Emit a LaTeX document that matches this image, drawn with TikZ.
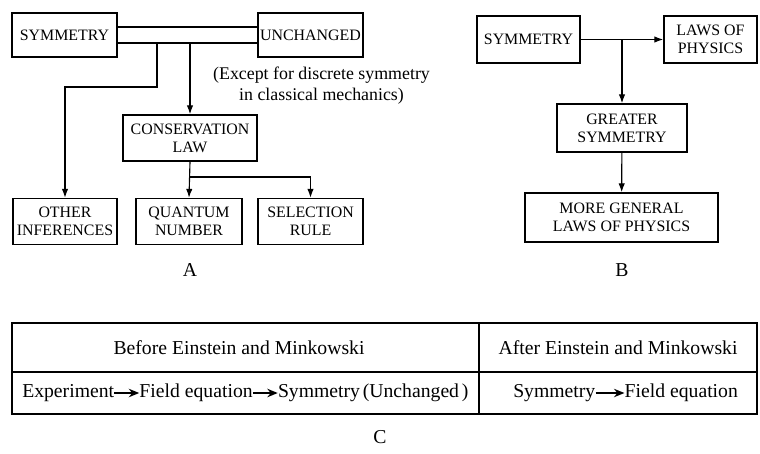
\documentclass[tikz,border=0pt]{standalone}
\usepackage{fontspec}
\setmainfont{Liberation Serif}
\usepackage{tikz}
\usetikzlibrary{arrows.meta}
\usetikzlibrary{positioning}
\newcommand{\boxsize}{\fontsize{11.3}{13}\selectfont}
\newcommand{\notesize}{\fontsize{12.7}{15}\selectfont}
\newcommand{\rowsize}{\fontsize{14}{14.2}\selectfont}
\tikzset{
    common/.style={draw, rectangle, line width=1.1pt, align=center, inner sep=1pt},
    box/.style={common, font=\boxsize, minimum height=1.15cm},
    conn/.style={line width=0.8pt, -{Latex[length=2.2mm, width=1.6mm]}},
    plain/.style={line width=0.8pt},
    flow/.style={line width=1.2pt, -{Stealth[length=2.6mm, width=2.1mm]}},
    word/.style={font=\rowsize, inner sep=0pt},
    caption/.style={font=\rowsize},
    rule/.style={line width=1.1pt},
}

\begin{document}
\begin{tikzpicture}[x=0.025cm, y=-0.025cm]
    \useasboundingbox (0,0) rectangle (760,453);

    % A
    \node[box, minimum width=2.625cm, minimum height=1.1cm] (a-sym) at (64.5,35) {SYMMETRY};
    \node[box, minimum width=2.625cm, minimum height=1.1cm] (a-unch) at (310.5,35) {UNCHANGED};
    \node[font=\notesize, align=center] (a-note) at (321.5,86) {(Except for discrete symmetry\\in classical mechanics)};
    \node[box, minimum width=3.35cm] (a-cons) at (190,138) {CONSERVATION\\LAW};
    \node[box, minimum width=2.6cm] (a-other) at (65,221.5) {OTHER\\INFERENCES};
    \node[box, minimum width=2.65cm] (a-quant) at (189,221.5) {QUANTUM\\NUMBER};
    \node[box, minimum width=2.625cm] (a-sel) at (310.5,221.5) {SELECTION\\RULE};
    \node[caption] (a-label) at (190,270) {A};

    \coordinate (a-high) at ([yshift=0.2cm]a-sym.east);
    \coordinate (a-low) at ([yshift=-0.2cm]a-sym.east);
    \coordinate (a-split) at (157,43);
    \coordinate (a-bend) at (157,87);
    \coordinate (a-fork) at (190,177);

    \draw[plain] (a-high) -- (a-high -| a-unch.west) (a-low) -- (a-low -| a-unch.west);
    \draw[conn] (a-split) -- (a-bend) -| (a-other.north);
    \draw[conn] (a-low -| a-cons.north) -- (a-cons.north);
    \draw[conn] (a-cons.south) -- (a-quant.north);
    \draw[conn] (a-fork) -| (a-sel.north);

    % B
    \node[box, minimum width=2.575cm, minimum height=1.175cm] (b-sym) at (528.5,39.5) {SYMMETRY};
    \node[box, minimum width=2.325cm, minimum height=1.175cm] (b-laws) at (710.5,39.5) {LAWS OF\\PHYSICS};
    \node[box, minimum width=3.25cm, minimum height=1.2cm] (b-great) at (622,128) {GREATER\\SYMMETRY};
    \node[box, minimum width=4.825cm, minimum height=1.225cm] (b-more) at (621.5,217.5) {MORE GENERAL\\LAWS OF PHYSICS};
    \node[caption] (b-label) at (622,270) {B};

    \draw[conn] (b-sym) -- (b-laws);
    \draw[conn] (b-great.north |- b-sym.east) -- (b-great.north);
    \draw[conn] (b-great) -- (b-more);

    % C
    \draw[rule] (12,323) rectangle (757,414);
    \draw[rule] (12,372) -- (757,372);
    \draw[rule] (479,323) -- (479,414);

    \node[word] (c-before) at (239,348) {Before Einstein and Minkowski};
    \node[word] (c-after) at (618,348) {After Einstein and Minkowski};

    \node[word, anchor=west] (c-exp) at (22,393) {Experiment};
    \node[word, right=0.62cm of c-exp] (c-field) {Field equation};
    \node[word, right=0.62cm of c-field] (c-sym) {Symmetry\kern2pt(Unchanged\kern2pt)};
    \draw[flow] (c-exp) -- (c-field);
    \draw[flow] (c-field) -- (c-sym);

    \node[word, anchor=west] (c-sym2) at (513,393) {Symmetry};
    \node[word, right=0.72cm of c-sym2] (c-field2) {Field equation};
    \draw[flow] (c-sym2) -- (c-field2);

    \node[caption] (c-label) at (380,437) {C};
\end{tikzpicture}
\end{document}
